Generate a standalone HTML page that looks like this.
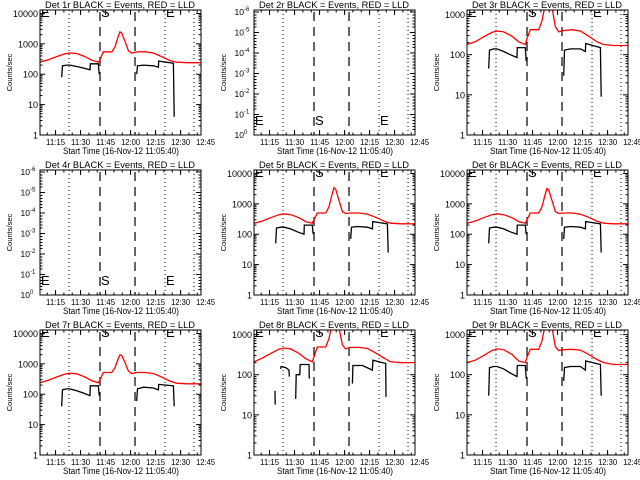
<!DOCTYPE html>
<html><head><meta charset="utf-8"><style>
html,body{margin:0;padding:0;background:#fff;}
svg{display:block;font-family:"Liberation Sans",sans-serif;}
</style></head><body>
<svg id="c" width="640" height="480" viewBox="0 0 640 480" xmlns="http://www.w3.org/2000/svg"></svg>
<script>
// ---- data ----
const panelNames = ["1r","2r","3r","4r","5r","6r","7r","8r","9r"];
const xTickLabels = ["11:15","11:30","11:45","12:00","12:15","12:30","12:45"];
const xTickMinutes = [9.33,24.33,39.33,54.33,69.33,84.33,99.33]; // minutes since 11:05:40
const dashedMinutes = [36,57];
const dottedMinutes = [17.4,75,92.4];
const redTimes = [0,5,10,15,18,22,27,31,35,36,38,43,45,47,48,49,51,53,55,58,63,68,73,78,82,88,97];
const red1 = [250,300,380,470,500,480,380,290,250,300,550,540,800,1800,2500,2300,1200,600,500,540,550,500,380,280,250,240,240];
const red3 = [180,210,280,360,390,370,290,210,180,250,420,420,700,1800,3000,3000,1500,500,370,400,420,390,290,210,180,170,170];
const red5 = [230,270,350,440,470,440,350,260,230,300,500,500,800,2200,3400,3000,1300,550,480,500,500,460,360,270,230,220,220];
const red6 = [230,270,350,440,470,440,350,260,230,300,500,500,800,2100,3200,2900,1300,550,480,500,500,460,360,270,230,220,220];
const red7 = [240,290,370,460,490,470,370,280,240,300,520,520,750,1500,2000,1900,1100,580,480,520,520,480,370,270,230,220,220];
const red8 = [210,260,340,430,460,440,340,250,210,280,490,490,800,2000,3500,3500,1500,550,440,480,480,450,350,260,210,200,200];
const red9 = [200,230,300,400,440,420,320,220,200,270,430,430,700,1800,3000,3000,1500,500,400,420,430,410,320,240,200,180,180];
const blackTimes = [13,13.5,16,18,22,26,30,30.2,35,35.5,null,58,58.5,62,68,71,71.2,80,80.5];
const black1 = [80,190,200,200,180,160,140,220,220,100,null,100,190,200,190,170,270,230,4];
const black3 = [45,130,140,140,120,100,85,150,150,70,null,30,130,140,140,120,190,150,9];
const black5 = [50,160,170,170,150,120,100,200,200,100,null,70,170,180,170,150,260,220,25];
const black6 = [50,160,170,170,150,120,100,200,200,100,null,70,170,180,170,150,260,220,25];
const black7 = [40,140,150,150,130,110,90,190,190,90,null,60,150,170,160,140,210,190,40];
const black9 = [30,150,160,160,140,110,90,170,170,80,null,70,150,160,160,130,220,180,30];
const black8Times = [12.6,12.7,null,16,16.2,19,21,21.2,null,25,25.3,27.5,27.7,33,33.2,null,59,59.3,65,71,71.3,77,79,79.2];
const black8 = [40,18,null,140,160,150,130,90,null,25,100,100,180,180,80,null,60,170,170,130,230,200,190,28];

const panels = [
 {red:red1,bt:blackTimes,bv:black1,ymax:13000},
 {empty:true},
 {red:red3,bt:blackTimes,bv:black3,ymax:1300},
 {empty:true},
 {red:red5,bt:blackTimes,bv:black5,ymax:13000},
 {red:red6,bt:blackTimes,bv:black6,ymax:13000},
 {red:red7,bt:blackTimes,bv:black7,ymax:13000},
 {red:red8,bt:black8Times,bv:black8,ymax:1300},
 {red:red9,bt:blackTimes,bv:black9,ymax:1300}
];
const svg=document.getElementById('c');
const NS="http://www.w3.org/2000/svg";
function mk(tag,attrs,parent){const e=document.createElementNS(NS,tag);for(const k in attrs)e.setAttribute(k,attrs[k]);(parent||svg).appendChild(e);return e;}
const colOff=[0,214,427], rowOff=[0,160,320];
const BL=40,BR=201,BT=10,BB=135, PXMIN=1.667;

panels.forEach((p,i)=>{
  const ox=colOff[i%3], oy=rowOff[Math.floor(i/3)];
  const g=mk('g',{transform:`translate(${ox},${oy})`});
  
  
  const xs=t=>BL+t*PXMIN;
  const ymin=1, ymax=p.empty?1:p.ymax;
  const ys=v=>BB-(Math.log10(v)-Math.log10(ymin))/(Math.log10(ymax)-Math.log10(ymin))*(BB-BT);
  const cid='clip'+i;
  const cp=mk('clipPath',{id:cid},g); mk('rect',{x:BL,y:BT,width:BR-BL,height:BB-BT},cp);
  const ti=mk('text',{x:45,y:8,'font-size':9.5,textLength:150,lengthAdjust:'spacingAndGlyphs'},g);
  ti.textContent=`Det ${panelNames[i]} BLACK = Events, RED = LLD`;
  
  
  const yl=mk('text',{x:0,y:0,'font-size':7.5,'text-anchor':'middle',transform:`translate(12,${(BT+BB)/2}) rotate(-90)`},g);
  yl.textContent='Counts/sec';
  
  
  const xl=mk('text',{x:63,y:154,'font-size':9,textLength:116,lengthAdjust:'spacingAndGlyphs'},g);
  xl.textContent='Start Time (16-Nov-12 11:05:40)';
  
  
  xTickMinutes.forEach((m,k)=>{
    const x=xs(m);
    if(x<=BR){mk('line',{x1:x,x2:x,y1:BB,y2:BB-5,stroke:'#000'},g);mk('line',{x1:x,x2:x,y1:BT,y2:BT+5,stroke:'#000'},g);}
    const t=mk('text',{x:x,y:145,'font-size':8.5,'text-anchor':'middle',textLength:19,lengthAdjust:'spacingAndGlyphs'},g);
    t.textContent=xTickLabels[k];
    
    
  });
  for(let m=4.33;m<97;m+=5){const x=xs(m);mk('line',{x1:x,x2:x,y1:BB,y2:BB-2.5,stroke:'#000'},g);mk('line',{x1:x,x2:x,y1:BT,y2:BT+2.5,stroke:'#000'},g);}
  if(p.empty){
    const labs=["-6","-5","-4","-3","-2","-1","0"];
    labs.forEach((s,k)=>{
      const y=BT+2+k*(BB-BT-2)/6;
      mk('line',{x1:BL,x2:BL+5,y1:y,y2:y,stroke:'#000'},g);mk('line',{x1:BR,x2:BR-5,y1:y,y2:y,stroke:'#000'},g);
      for(let j=1;j<6;j++){const yy=y+j*3; if(yy<BB){mk('line',{x1:BL,x2:BL+2.5,y1:yy,y2:yy,stroke:'#000'},g);mk('line',{x1:BR,x2:BR-2.5,y1:yy,y2:yy,stroke:'#000'},g);}}
      const t=mk('text',{x:BL-10,y:y+3,'font-size':8.5,'text-anchor':'end'},g);
      t.textContent='10';
      
      
      const s2=mk('text',{x:BL-10,y:y-1,'font-size':6},g); s2.textContent=s;
    });
  } else {
    for(let d=0; Math.pow(10,d)<=ymax; d++){
      const v=Math.pow(10,d), y=ys(v);
      mk('line',{x1:BL,x2:BL+5,y1:y,y2:y,stroke:'#000'},g);mk('line',{x1:BR,x2:BR-5,y1:y,y2:y,stroke:'#000'},g);
      for(let j=2;j<10;j++){const vv=v*j; if(vv<=ymax){const yy=ys(vv);mk('line',{x1:BL,x2:BL+2.5,y1:yy,y2:yy,stroke:'#000'},g);mk('line',{x1:BR,x2:BR-2.5,y1:yy,y2:yy,stroke:'#000'},g);}}
      const t=mk('text',{x:BL-2,y:y+3.5,'font-size':9,'text-anchor':'end'},g);
      t.textContent=String(v);
      
      
    }
  }
  const cg=mk('g',{'clip-path':`url(#${cid})`},g);
  dashedMinutes.forEach(m=>{const l=mk('line',{x1:xs(m),x2:xs(m),y1:BT+2,y2:BB,stroke:'#000','stroke-dasharray':'9,6','stroke-width':1.2},cg);});
  dottedMinutes.forEach(m=>{const l=mk('line',{x1:xs(m),x2:xs(m),y1:BT,y2:BB,stroke:'#000','stroke-dasharray':'1,3'},cg);});
  const lets=[['E',0.6],['S',dashedMinutes[0]+0.6],['E',dottedMinutes[1]+0.6]];
  lets.forEach(([L,m])=>{
    const t=mk('text',{x:xs(m),y:p.empty?BB-10:BT+7,'font-size':13,fill:'#000'},cg);
    t.textContent=L;
    
    
  });
  if(!p.empty){
    let d='';redTimes.forEach((t,k)=>{d+=(k?'L':'M')+xs(t).toFixed(1)+','+ys(p.red[k]).toFixed(1);});
    const r=mk('path',{d:d,fill:'none',stroke:'#f00','stroke-width':1.3},cg);
    
    
    let bd='',start=true;
    p.bt.forEach((t,k)=>{if(t===null||p.bv[k]===null){start=true;return;}bd+=(start?'M':'L')+xs(t).toFixed(1)+','+ys(p.bv[k]).toFixed(1);start=false;});
    const b=mk('path',{d:bd,fill:'none',stroke:'#000','stroke-width':1.3},cg);
    
    
  }
  const box=mk('rect',{x:BL,y:BT,width:BR-BL,height:BB-BT,fill:'none',stroke:'#000','stroke-width':1},g);
  
  
});
</script>
</body></html>
